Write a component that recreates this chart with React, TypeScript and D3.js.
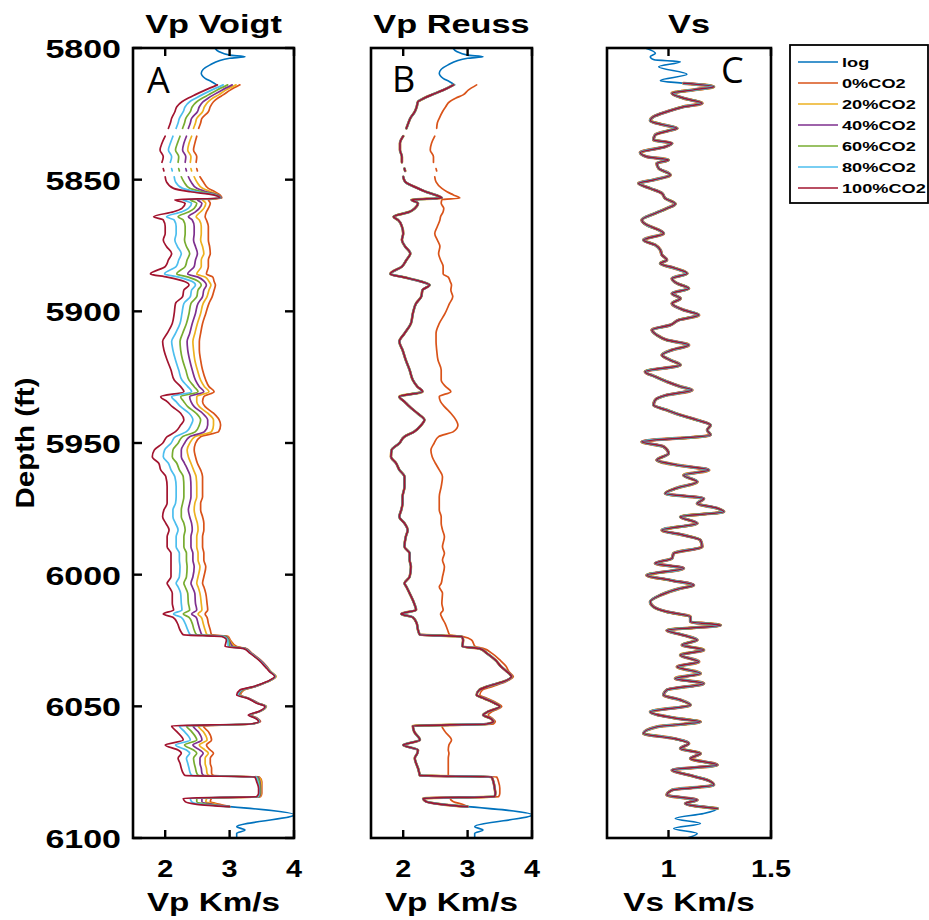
import React from "react";
import * as d3 from "d3";

// ---- series metadata ----
const seriesNames = ["log", "0%CO2", "20%CO2", "40%CO2", "60%CO2", "80%CO2", "100%CO2"];
const seriesColors = ["#0072BD", "#D95319", "#EDB120", "#7E2F8E", "#77AC30", "#4DBEEE", "#A2142F"];

// ---- axis ticks ----
const depthTicks = [5800, 5850, 5900, 5950, 6000, 6050, 6100];
const vpTicks = [2, 3, 4];
const vsTicks = [1, 1.5];

// ---- measured P-wave log (only the ends lie outside the substituted interval) ----
const logVpDepth = [5800.0, 5801.3, 5802.7, 5803.3, 5803.9, 5806.5, 5809.6, 5811.5, 5812.8, 5814.0,
  5950.0, 6088.1, 6091.2, 6095.7, 6097.0, 6098.2, 6100.0];
const logVp = [2.77, 2.83, 3.00, 3.24, 3.00, 2.69, 2.56, 2.62, 2.72, 2.80,
  null, 3.00, 4.00, 3.11, 3.24, 3.11, 3.11];

// ---- depth samples of the fluid-substituted interval (ft) ----
const subDepth = [
  5814.0, 5816.0, 5817.8, 5819.0, 5820.4, 5822.3, 5824.2, 5826.7, 5828.5, 5830.5,
  5832.0, 5833.5, 5836.2, 5838.7, 5841.3, 5843.4, 5844.6, 5845.8, 5846.7, 5847.6,
  5848.9, 5850.8, 5853.3, 5854.6, 5855.8, 5857.0, 5857.6, 5859.0, 5860.9, 5862.2,
  5864.1, 5865.3, 5867.8, 5870.4, 5872.9, 5875.4, 5878.0, 5880.5, 5883.0, 5885.8,
  5887.0, 5888.7, 5890.0, 5891.9, 5894.4, 5897.0, 5900.8, 5904.6, 5908.4, 5911.5,
  5914.7, 5918.5, 5922.3, 5926.1, 5928.6, 5930.5, 5932.4, 5934.3, 5936.2, 5938.7,
  5941.3, 5943.2, 5945.7, 5947.6, 5950.1, 5952.7, 5955.2, 5957.7, 5960.2, 5962.8,
  5966.6, 5970.4, 5972.9, 5975.4, 5978.0, 5980.5, 5983.0, 5985.6, 5989.4, 5991.9,
  5994.4, 5997.0, 6000.8, 6003.3, 6004.6, 6007.1, 6010.9, 6013.4, 6014.9, 6016.2,
  6018.5, 6021.0, 6022.8, 6023.5, 6024.8, 6027.3, 6028.0, 6029.9, 6032.4, 6034.9,
  6036.8, 6038.7, 6040.6, 6042.5, 6043.8, 6045.7, 6046.9, 6048.8, 6050.1, 6052.0,
  6053.3, 6054.5, 6055.8, 6056.7, 6057.4, 6059.6, 6062.8, 6064.7, 6066.6, 6067.8,
  6069.7, 6071.6, 6073.5, 6075.4, 6076.3, 6076.8, 6078.6, 6081.1, 6083.0, 6084.3,
  6084.9, 6086.2, 6087.2, 6088.1,
];

// ---- Vp, Voigt (patchy) mixing, km/s ----
const vpVoigt0 = [
  3.16, 3.01, 2.90, 2.82, 2.75, 2.70, 2.67, 2.57, 2.55, 2.52,
  null, 2.49, 2.46, 2.44, 2.49, 2.48, null, 2.49, 2.50, null,
  2.54, 2.59, 2.67, 2.77, 2.85, 2.88, 2.67, 2.70, 2.67, 2.64,
  2.62, 2.64, 2.67, 2.67, 2.67, 2.69, 2.70, 2.67, 2.67, 2.64,
  2.74, 2.76, 2.78, 2.76, 2.73, 2.68, 2.63, 2.58, 2.55, 2.53,
  2.53, 2.55, 2.58, 2.63, 2.68, 2.76, 2.60, 2.58, 2.62, 2.75,
  2.84, 2.86, 2.83, 2.55, 2.47, 2.45, 2.47, 2.50, 2.55, 2.58,
  2.58, 2.58, 2.55, 2.55, 2.58, 2.60, 2.60, 2.58, 2.58, 2.60,
  2.60, 2.63, 2.60, 2.58, 2.60, 2.63, 2.65, 2.66, 2.62, 2.65,
  2.67, 2.70, 2.72, 2.98, 3.01, 3.11, 3.25, 3.35, 3.48, 3.58,
  3.64, 3.72, 3.60, 3.40, 3.22, 3.17, 3.30, 3.45, 3.57, 3.47,
  3.33, 3.43, 3.48, 3.35, 2.59, 2.67, 2.72, 2.64, 2.70, 2.75,
  2.70, 2.70, 2.72, 2.72, 2.75, 3.46, 3.50, 3.50, 3.50, 3.48,
  2.72, 2.70, 2.85, 3.00,
];
const vpVoigt20 = [
  3.10, 2.94, 2.83, 2.74, 2.67, 2.61, 2.58, 2.49, 2.47, 2.44,
  null, 2.41, 2.37, 2.35, 2.40, 2.39, null, 2.40, 2.41, null,
  2.45, 2.49, 2.58, 2.71, 2.83, 2.87, 2.58, 2.63, 2.60, 2.55,
  2.48, 2.53, 2.56, 2.56, 2.55, 2.58, 2.60, 2.56, 2.56, 2.49,
  2.62, 2.68, 2.71, 2.68, 2.65, 2.59, 2.55, 2.50, 2.46, 2.43,
  2.44, 2.46, 2.50, 2.55, 2.61, 2.68, 2.49, 2.49, 2.53, 2.66,
  2.75, 2.75, 2.72, 2.46, 2.38, 2.34, 2.36, 2.40, 2.44, 2.48,
  2.49, 2.49, 2.46, 2.45, 2.47, 2.50, 2.51, 2.49, 2.49, 2.51,
  2.51, 2.54, 2.51, 2.49, 2.51, 2.54, 2.56, 2.57, 2.51, 2.56,
  2.59, 2.62, 2.65, 2.96, 3.00, 3.08, 3.24, 3.34, 3.47, 3.57,
  3.64, 3.72, 3.60, 3.39, 3.21, 3.16, 3.29, 3.44, 3.57, 3.47,
  3.32, 3.42, 3.47, 3.34, 2.51, 2.59, 2.65, 2.53, 2.62, 2.67,
  2.62, 2.62, 2.64, 2.65, 2.68, 3.45, 3.49, 3.49, 3.49, 3.47,
  2.65, 2.63, 2.79, 3.00,
];
const vpVoigt40 = [
  3.04, 2.88, 2.75, 2.67, 2.59, 2.53, 2.50, 2.41, 2.39, 2.36,
  null, 2.33, 2.29, 2.27, 2.32, 2.31, null, 2.32, 2.33, null,
  2.36, 2.40, 2.49, 2.64, 2.82, 2.87, 2.50, 2.57, 2.53, 2.47,
  2.36, 2.42, 2.45, 2.45, 2.44, 2.47, 2.50, 2.47, 2.45, 2.35,
  2.51, 2.61, 2.64, 2.60, 2.58, 2.51, 2.47, 2.42, 2.38, 2.34,
  2.35, 2.38, 2.42, 2.47, 2.53, 2.60, 2.38, 2.40, 2.45, 2.58,
  2.66, 2.66, 2.61, 2.38, 2.30, 2.25, 2.25, 2.30, 2.35, 2.39,
  2.40, 2.40, 2.38, 2.36, 2.38, 2.41, 2.42, 2.40, 2.40, 2.43,
  2.43, 2.45, 2.43, 2.40, 2.42, 2.46, 2.47, 2.49, 2.41, 2.48,
  2.51, 2.54, 2.57, 2.95, 2.99, 3.05, 3.24, 3.34, 3.47, 3.57,
  3.63, 3.71, 3.59, 3.39, 3.20, 3.15, 3.29, 3.44, 3.56, 3.46,
  3.32, 3.42, 3.47, 3.34, 2.43, 2.51, 2.57, 2.43, 2.54, 2.59,
  2.54, 2.54, 2.56, 2.57, 2.60, 3.44, 3.47, 3.48, 3.48, 3.46,
  2.57, 2.57, 2.73, 3.00,
];
const vpVoigt60 = [
  2.97, 2.80, 2.67, 2.58, 2.49, 2.42, 2.39, 2.32, 2.30, 2.27,
  null, 2.23, 2.19, 2.16, 2.21, 2.20, null, 2.21, 2.22, null,
  2.25, 2.29, 2.38, 2.57, 2.80, 2.86, 2.39, 2.49, 2.45, 2.37,
  2.20, 2.28, 2.31, 2.31, 2.30, 2.33, 2.38, 2.34, 2.31, 2.18,
  2.36, 2.52, 2.56, 2.51, 2.49, 2.40, 2.37, 2.33, 2.27, 2.23,
  2.24, 2.27, 2.32, 2.37, 2.45, 2.51, 2.24, 2.29, 2.35, 2.48,
  2.55, 2.53, 2.47, 2.27, 2.20, 2.12, 2.11, 2.18, 2.22, 2.28,
  2.29, 2.29, 2.27, 2.25, 2.25, 2.29, 2.31, 2.29, 2.29, 2.33,
  2.33, 2.34, 2.33, 2.29, 2.31, 2.35, 2.36, 2.38, 2.28, 2.37,
  2.42, 2.45, 2.49, 2.93, 2.98, 3.01, 3.23, 3.33, 3.46, 3.56,
  3.63, 3.71, 3.59, 3.38, 3.19, 3.14, 3.28, 3.43, 3.56, 3.46,
  3.31, 3.41, 3.46, 3.33, 2.33, 2.41, 2.49, 2.30, 2.44, 2.49,
  2.44, 2.45, 2.47, 2.49, 2.52, 3.42, 3.46, 3.47, 3.47, 3.45,
  2.49, 2.49, 2.66, 3.00,
];
const vpVoigt80 = [
  2.90, 2.72, 2.57, 2.48, 2.38, 2.31, 2.28, 2.22, 2.20, 2.17,
  null, 2.12, 2.08, 2.05, 2.10, 2.08, null, 2.10, 2.11, null,
  2.14, 2.16, 2.27, 2.49, 2.78, 2.86, 2.28, 2.41, 2.36, 2.26,
  2.02, 2.14, 2.17, 2.17, 2.15, 2.19, 2.25, 2.21, 2.17, 1.99,
  2.21, 2.42, 2.47, 2.41, 2.39, 2.29, 2.26, 2.23, 2.16, 2.10,
  2.12, 2.16, 2.21, 2.26, 2.35, 2.41, 2.10, 2.17, 2.24, 2.37,
  2.43, 2.40, 2.33, 2.16, 2.09, 1.99, 1.97, 2.05, 2.09, 2.15,
  2.17, 2.17, 2.16, 2.12, 2.12, 2.16, 2.20, 2.17, 2.17, 2.22,
  2.22, 2.23, 2.22, 2.17, 2.20, 2.24, 2.25, 2.26, 2.13, 2.25,
  2.31, 2.35, 2.39, 2.91, 2.97, 2.98, 3.22, 3.33, 3.46, 3.56,
  3.63, 3.71, 3.59, 3.38, 3.18, 3.13, 3.28, 3.43, 3.56, 3.46,
  3.30, 3.41, 3.46, 3.33, 2.22, 2.30, 2.39, 2.16, 2.33, 2.38,
  2.33, 2.35, 2.37, 2.39, 2.42, 3.41, 3.44, 3.46, 3.46, 3.44,
  2.39, 2.41, 2.58, 3.00,
];
const vpVoigt100 = [
  2.81, 2.62, 2.46, 2.36, 2.26, 2.18, 2.15, 2.10, 2.08, 2.05,
  null, 2.00, 1.95, 1.92, 1.97, 1.95, null, 1.97, 1.98, null,
  2.00, 2.02, 2.13, 2.39, 2.75, 2.85, 2.15, 2.31, 2.26, 2.13,
  1.82, 1.97, 2.00, 2.00, 1.97, 2.02, 2.10, 2.05, 2.00, 1.77,
  2.03, 2.30, 2.37, 2.29, 2.27, 2.16, 2.14, 2.11, 2.03, 1.96,
  1.98, 2.03, 2.09, 2.14, 2.24, 2.29, 1.93, 2.03, 2.11, 2.24,
  2.29, 2.24, 2.16, 2.03, 1.96, 1.83, 1.80, 1.90, 1.93, 2.01,
  2.03, 2.03, 2.03, 1.98, 1.96, 2.01, 2.06, 2.03, 2.03, 2.09,
  2.09, 2.09, 2.09, 2.03, 2.06, 2.11, 2.11, 2.13, 1.97, 2.12,
  2.19, 2.23, 2.28, 2.88, 2.95, 2.93, 3.21, 3.32, 3.45, 3.55,
  3.62, 3.70, 3.58, 3.37, 3.16, 3.11, 3.27, 3.42, 3.55, 3.45,
  3.29, 3.40, 3.45, 3.32, 2.10, 2.18, 2.28, 2.00, 2.20, 2.25,
  2.20, 2.23, 2.25, 2.28, 2.31, 3.39, 3.42, 3.45, 3.45, 3.42,
  2.28, 2.31, 2.49, 3.00,
];

// ---- Vp, Reuss (uniform) mixing, km/s: brine case and CO2-bearing cases ----
const vpReuss0 = [
  3.14, 3.01, 2.93, 2.82, 2.72, 2.66, 2.61, 2.56, 2.53, 2.52,
  null, 2.49, 2.44, 2.42, 2.47, 2.47, null, 2.51, 2.52, null,
  2.49, 2.51, 2.60, 2.68, 2.78, 2.88, 2.60, 2.59, 2.63, 2.62,
  2.58, 2.57, 2.53, 2.49, 2.53, 2.57, 2.55, 2.58, 2.62, 2.62,
  2.70, 2.73, 2.75, 2.74, 2.77, 2.72, 2.65, 2.56, 2.51, 2.51,
  2.52, 2.54, 2.59, 2.59, 2.66, 2.74, 2.56, 2.58, 2.64, 2.74,
  2.82, 2.85, 2.78, 2.55, 2.48, 2.43, 2.45, 2.50, 2.56, 2.61,
  2.59, 2.56, 2.56, 2.56, 2.59, 2.59, 2.61, 2.64, 2.61, 2.64,
  2.61, 2.64, 2.61, 2.59, 2.56, 2.61, 2.60, 2.62, 2.58, 2.60,
  2.65, 2.69, 2.72, 2.93, 3.06, 3.12, 3.24, 3.38, 3.50, 3.60,
  3.64, 3.71, 3.60, 3.38, 3.23, 3.19, 3.30, 3.46, 3.53, 3.38,
  3.32, 3.38, 3.43, 3.40, 2.60, 2.65, 2.75, 2.71, 2.70, 2.71,
  2.70, 2.70, 2.70, 2.70, 2.70, 3.45, 3.48, 3.50, 3.50, 3.48,
  2.73, 2.78, 2.92, 3.00,
];
const vpReussCO2 = [
  2.78, 2.62, 2.44, 2.33, 2.23, 2.21, 2.18, 2.11, 2.08, 2.05,
  null, 2.00, 1.95, 1.95, 1.98, 1.98, null, 2.02, 2.03, null,
  2.00, 2.03, 2.23, 2.35, 2.50, 2.60, 2.13, 2.23, 2.18, 2.10,
  1.85, 1.92, 1.98, 2.00, 1.98, 2.03, 2.11, 2.05, 1.98, 1.80,
  2.00, 2.28, 2.41, 2.30, 2.28, 2.20, 2.15, 2.12, 2.02, 1.94,
  1.99, 2.04, 2.10, 2.15, 2.22, 2.30, 1.94, 2.02, 2.10, 2.22,
  2.33, 2.28, 2.17, 2.02, 1.94, 1.82, 1.81, 1.89, 1.94, 2.02,
  2.02, 1.99, 1.99, 1.97, 1.94, 2.02, 2.07, 2.04, 2.02, 2.10,
  2.10, 2.12, 2.10, 2.02, 2.05, 2.10, 2.17, 2.20, 1.97, 2.15,
  2.21, 2.23, 2.26, 2.91, 2.93, 2.92, 3.18, 3.30, 3.43, 3.52,
  3.61, 3.68, 3.56, 3.30, 3.18, 3.14, 3.25, 3.42, 3.50, 3.32,
  3.24, 3.35, 3.40, 3.30, 2.15, 2.17, 2.26, 2.00, 2.23, 2.22,
  2.18, 2.20, 2.23, 2.25, 2.26, 3.37, 3.40, 3.42, 3.43, 3.42,
  2.31, 2.36, 2.60, 3.00,
];

// ---- shear velocity log, km/s (shear modulus is fluid independent) ----
const vsDepth = [
  5800.0, 5802.0, 5803.3, 5804.5, 5805.2, 5807.1, 5810.0, 5812.4, 5813.4, 5814.7,
  5815.9, 5817.2, 5819.1, 5821.0, 5822.3, 5824.2, 5826.1, 5827.6, 5829.2, 5830.5,
  5831.4, 5833.0, 5834.9, 5836.2, 5837.5, 5839.7, 5841.3, 5842.5, 5843.8, 5845.7,
  5848.2, 5850.1, 5851.4, 5853.3, 5855.2, 5857.1, 5859.2, 5860.9, 5862.8, 5865.3,
  5867.2, 5869.1, 5870.4, 5872.9, 5874.8, 5876.7, 5878.6, 5880.5, 5881.8, 5883.7,
  5885.6, 5887.5, 5889.4, 5891.3, 5893.2, 5895.1, 5897.0, 5899.5, 5901.4, 5903.3,
  5905.2, 5907.1, 5909.0, 5910.9, 5912.8, 5914.7, 5916.6, 5918.5, 5920.4, 5922.9,
  5924.8, 5926.7, 5928.6, 5929.9, 5931.8, 5933.7, 5935.6, 5937.5, 5939.4, 5941.3,
  5943.2, 5945.1, 5947.0, 5949.5, 5951.4, 5954.0, 5956.5, 5958.4, 5960.3, 5962.2,
  5964.7, 5967.3, 5969.2, 5971.1, 5973.0, 5974.8, 5976.1, 5978.0, 5980.5, 5983.1,
  5985.0, 5986.9, 5989.4, 5991.9, 5993.8, 5995.7, 5997.6, 6000.2, 6002.1, 6004.0,
  6005.2, 6007.8, 6010.3, 6012.2, 6014.1, 6016.0, 6017.9, 6019.2, 6021.1, 6023.0,
  6024.8, 6026.7, 6028.6, 6030.5, 6033.1, 6035.0, 6037.5, 6039.4, 6041.3, 6043.8,
  6045.7, 6047.6, 6049.5, 6052.1, 6054.6, 6055.9, 6057.8, 6060.3, 6062.2, 6064.1,
  6066.0, 6067.9, 6069.8, 6072.3, 6074.2, 6076.1, 6078.0, 6079.9, 6081.8, 6083.7,
  6085.6, 6086.9, 6088.8, 6090.7, 6092.6, 6094.5, 6096.4, 6098.3, 6100.0,
];
const vsLog = [
  0.886, 0.936, 0.911, 0.930, 1.058, 0.952, 1.090, 0.960, 1.074, 1.221,
  1.123, 1.017, 1.074, 1.164, 1.074, 0.992, 0.927, 0.911, 0.976, 1.042,
  1.000, 0.935, 0.927, 1.017, 0.984, 0.862, 0.894, 1.000, 0.943, 0.952,
  1.009, 0.927, 0.854, 0.911, 0.968, 0.984, 1.033, 0.992, 0.935, 0.870,
  0.894, 0.952, 0.976, 0.878, 0.935, 0.960, 0.968, 0.992, 0.960, 1.033,
  1.091, 1.017, 1.042, 1.099, 1.017, 1.058, 1.017, 1.074, 1.148, 1.050,
  1.009, 0.919, 0.943, 0.992, 1.099, 1.017, 0.968, 1.009, 1.058, 0.886,
  0.935, 0.992, 1.058, 1.115, 0.992, 0.935, 0.927, 0.992, 1.058, 1.140,
  1.205, 1.189, 1.205, 0.870, 0.976, 1.000, 0.943, 1.042, 1.197, 1.074,
  1.140, 1.033, 0.984, 1.172, 1.140, 1.238, 1.270, 1.058, 1.140, 0.968,
  1.074, 1.156, 1.164, 1.025, 1.017, 0.935, 1.074, 0.894, 1.009, 1.123,
  1.058, 0.960, 0.911, 0.927, 0.992, 1.107, 1.107, 1.254, 0.992, 1.074,
  1.140, 1.066, 1.172, 1.058, 1.148, 1.042, 1.156, 1.033, 1.172, 0.992,
  0.976, 1.058, 1.107, 0.911, 1.042, 1.156, 0.943, 0.878, 1.025, 1.099,
  1.058, 1.156, 1.107, 1.238, 1.017, 1.099, 1.189, 1.221, 1.017, 0.992,
  1.140, 1.082, 1.238, 1.172, 1.033, 1.156, 1.025, 1.140, 1.090,
];
// depth window in which the fluid-substituted Vs curves are defined
const vsFluidTop = 5813.4;
const vsFluidBase = 6088.8;

// ---- layout ----
const W = 929;
const H = 920;
const TOP = 48;
const BOTTOM = 838;
const SANS = "'Liberation Sans', Arial, Helvetica, sans-serif";

type Pt = [number, number | null];
const zip = (ds: number[], vs: (number | null)[]): Pt[] => ds.map((d, i) => [d, vs[i]] as Pt);

const yScale = d3.scaleLinear().domain([5800, 6100]).range([TOP, BOTTOM]);

type Curve = { color: string; pts: Pt[]; width: number };

const vsPts = zip(vsDepth, vsLog);
const vsFluidPts = vsPts.filter((p) => p[0] >= vsFluidTop && p[0] <= vsFluidBase);

const panels = [
  {
    id: "A", left: 133, right: 294, domain: [1.5, 4], ticks: vpTicks,
    title: "Vp Voigt", xlabel: "Vp Km/s", letter: "A", letterX: 147, letterY: 93, yTicks: true,
    curves: [
      { color: seriesColors[0], pts: zip(logVpDepth, logVp), width: 1.6 },
      { color: seriesColors[1], pts: zip(subDepth, vpVoigt0), width: 1.7 },
      { color: seriesColors[2], pts: zip(subDepth, vpVoigt20), width: 1.7 },
      { color: seriesColors[3], pts: zip(subDepth, vpVoigt40), width: 1.7 },
      { color: seriesColors[4], pts: zip(subDepth, vpVoigt60), width: 1.7 },
      { color: seriesColors[5], pts: zip(subDepth, vpVoigt80), width: 1.7 },
      { color: seriesColors[6], pts: zip(subDepth, vpVoigt100), width: 1.7 },
    ] as Curve[],
  },
  {
    id: "B", left: 371, right: 532, domain: [1.5, 4], ticks: vpTicks,
    title: "Vp Reuss", xlabel: "Vp Km/s", letter: "B", letterX: 392, letterY: 92, yTicks: false,
    curves: [
      { color: seriesColors[0], pts: zip(logVpDepth, logVp), width: 1.6 },
      { color: seriesColors[1], pts: zip(subDepth, vpReuss0), width: 1.7 },
      { color: seriesColors[2], pts: zip(subDepth, vpReussCO2), width: 2.7 },
      { color: seriesColors[3], pts: zip(subDepth, vpReussCO2), width: 2.3 },
      { color: seriesColors[4], pts: zip(subDepth, vpReussCO2), width: 2.1 },
      { color: seriesColors[5], pts: zip(subDepth, vpReussCO2), width: 2.0 },
      { color: seriesColors[6], pts: zip(subDepth, vpReussCO2), width: 1.7 },
    ] as Curve[],
  },
  {
    id: "C", left: 607, right: 771, domain: [0.7, 1.5], ticks: vsTicks,
    title: "Vs", xlabel: "Vs Km/s", letter: "C", letterX: 721, letterY: 83, yTicks: false,
    curves: [
      { color: seriesColors[0], pts: vsPts, width: 1.6 },
      { color: seriesColors[1], pts: vsFluidPts, width: 3.2 },
      { color: seriesColors[2], pts: vsFluidPts, width: 2.8 },
      { color: seriesColors[3], pts: vsFluidPts, width: 2.5 },
      { color: seriesColors[4], pts: vsFluidPts, width: 2.3 },
      { color: seriesColors[5], pts: vsFluidPts, width: 2.2 },
      { color: seriesColors[6], pts: vsFluidPts, width: 1.5 },
    ] as Curve[],
  },
];

function SText(props: {
  x: number; y: number; size: number; sx?: number; anchor?: string; weight?: string | number;
  family?: string; rotate?: number; children: React.ReactNode;
}) {
  const { x, y, size, sx = 1, anchor = "middle", weight = "bold", family = SANS, rotate = 0, children } = props;
  const t = `translate(${x},${y})${rotate ? ` rotate(${rotate})` : ""} scale(${sx},1)`;
  return (
    <text transform={t} fontSize={size} fontWeight={weight} fontFamily={family} textAnchor={anchor} fill="#000">
      {children}
    </text>
  );
}

function Panel({ p }: { p: (typeof panels)[number] }) {
  const x = d3.scaleLinear().domain(p.domain).range([p.left, p.right]);
  const line = d3
    .line<Pt>()
    .defined((d) => d[1] !== null && d[1] !== undefined)
    .x((d) => x(d[1] as number))
    .y((d) => yScale(d[0]))
    .curve(d3.curveMonotoneY);
  const clipId = `clip-${p.id}`;
  const cx = (p.left + p.right) / 2;
  return (
    <g>
      <defs>
        <clipPath id={clipId}>
          <rect x={p.left} y={TOP} width={p.right - p.left} height={BOTTOM - TOP} />
        </clipPath>
      </defs>
      <g clipPath={`url(#${clipId})`} fill="none" strokeLinejoin="round" strokeLinecap="round">
        {p.curves.map((c, i) => (
          <path key={i} d={line(c.pts) || ""} stroke={c.color} strokeWidth={c.width} />
        ))}
      </g>
      {/* frame */}
      <rect x={p.left} y={TOP} width={p.right - p.left} height={BOTTOM - TOP} fill="none" stroke="#000" strokeWidth={2.6} />
      {/* x ticks, top and bottom, pointing inward */}
      {p.ticks.map((t) => (
        <g key={t} stroke="#000" strokeWidth={2.4}>
          <line x1={x(t)} x2={x(t)} y1={TOP} y2={TOP + 8} />
          <line x1={x(t)} x2={x(t)} y1={BOTTOM} y2={BOTTOM - 8} />
        </g>
      ))}
      {p.ticks.map((t) => (
        <SText key={`l${t}`} x={x(t)} y={877} size={24} sx={1.2}>
          {String(t)}
        </SText>
      ))}
      {p.yTicks &&
        depthTicks.map((d) => (
          <g key={d} stroke="#000" strokeWidth={2.4}>
            <line x1={p.left} x2={p.left + 9} y1={yScale(d)} y2={yScale(d)} />
            <line x1={p.right} x2={p.right - 9} y1={yScale(d)} y2={yScale(d)} />
          </g>
        ))}
      <SText x={cx} y={33} size={26} sx={1.32}>{p.title}</SText>
      <SText x={cx} y={911} size={26} sx={1.28}>{p.xlabel}</SText>
      <SText x={p.letterX} y={p.letterY} size={36} weight="normal" family="'Open Sans', 'Noto Sans', sans-serif" anchor="start">
        {p.letter}
      </SText>
    </g>
  );
}

function Legend() {
  const x0 = 790;
  const y0 = 45;
  const w = 138;
  const h = 158;
  return (
    <g>
      <rect x={x0} y={y0} width={w} height={h} fill="#fff" stroke="#000" strokeWidth={1.8} />
      {seriesNames.map((name, i) => {
        const y = 62 + i * 21;
        return (
          <g key={name}>
            <line x1={798} x2={838} y1={y} y2={y} stroke={seriesColors[i]} strokeWidth={1.6} />
            <SText x={842} y={y + 5} size={13} sx={1.4} anchor="start">{name}</SText>
          </g>
        );
      })}
    </g>
  );
}

export default function App() {
  return (
    <svg width={W} height={H} viewBox={`0 0 ${W} ${H}`} style={{ position: "absolute", left: 0, top: 0, background: "#fff" }}>
      <rect x={0} y={0} width={W} height={H} fill="#fff" />
      {depthTicks.map((d) => (
        <SText key={d} x={121} y={yScale(d) + 10} size={25} sx={1.36} anchor="end">{String(d)}</SText>
      ))}
      <SText x={34} y={443} size={25} sx={1.18} rotate={-90}>Depth (ft)</SText>
      {panels.map((p) => (
        <Panel key={p.id} p={p} />
      ))}
      <Legend />
    </svg>
  );
}
